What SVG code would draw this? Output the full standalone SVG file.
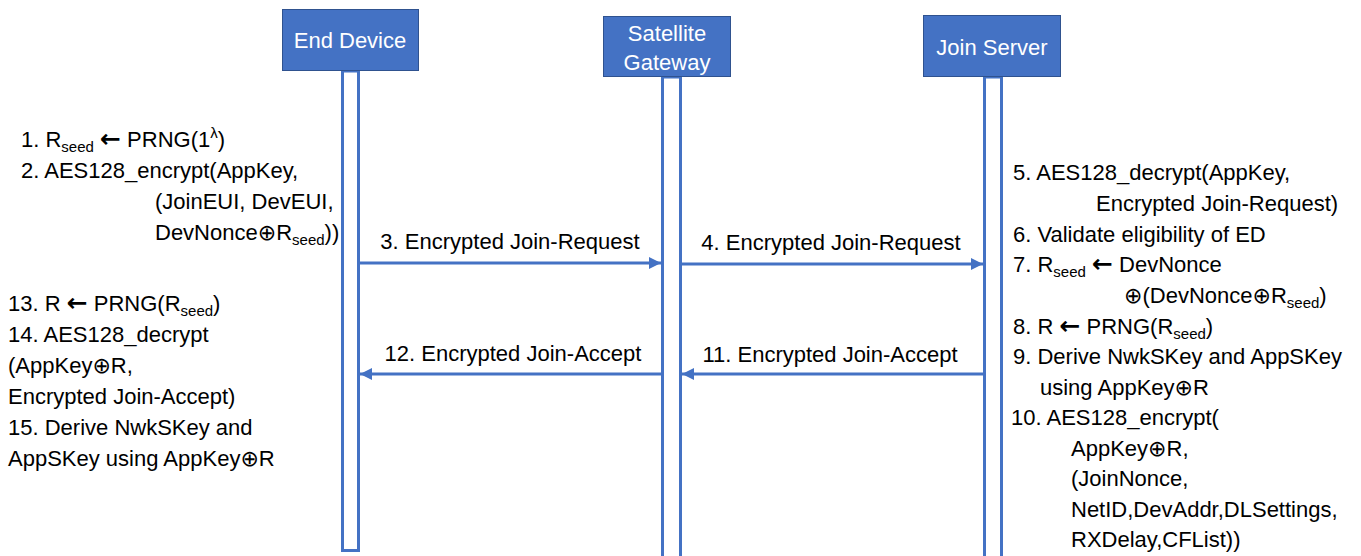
<svg xmlns="http://www.w3.org/2000/svg" width="1361" height="556" viewBox="0 0 1361 556">
  <style>
    .box { fill: #4472C4; stroke: #2F528F; stroke-width: 1; }
    .boxlabel { fill: #FFFFFF; font-family: "Liberation Sans", Arial, sans-serif; font-size: 22px; text-anchor: middle; }
    .life { fill: #FFFFFF; stroke: #4472C4; stroke-width: 3; }
    .msg { stroke: #4472C4; stroke-width: 3; fill: none; }
    .t { fill: #000000; font-family: "Liberation Sans", Arial, sans-serif; font-size: 22px; }
    .mid { text-anchor: middle; }
    .sub { font-size: 15px; }
    .arr { font-family: "DejaVu Sans", sans-serif; font-weight: bold; font-size: 25px; }
    .xor { font-family: "DejaVu Sans", sans-serif; font-size: 22px; }
  </style>
  <defs>
    <marker id="arrowhead" viewBox="0 0 10 10" refX="10" refY="5" markerUnits="userSpaceOnUse" markerWidth="12" markerHeight="13" orient="auto">
      <path d="M0,0 L10,5 L0,10 Z" fill="#4472C4"/>
    </marker>
  </defs>

  <!-- participants with their lifelines -->
  <g id="end-device">
    <rect class="life" x="342.5" y="71" width="16" height="479.5"/>
    <rect class="box" x="282.5" y="9.5" width="136" height="61"/>
    <text class="boxlabel" x="350" y="48">End Device</text>
  </g>
  <g id="satellite-gateway">
    <rect class="life" x="662.5" y="77" width="18" height="490"/>
    <rect class="box" x="603.5" y="16.5" width="127" height="60"/>
    <text class="boxlabel" x="667" y="41">Satellite</text>
    <text class="boxlabel" x="667" y="70">Gateway</text>
  </g>
  <g id="join-server">
    <rect class="life" x="984.5" y="77" width="17" height="490"/>
    <rect class="box" x="923.5" y="15.5" width="137" height="61"/>
    <text class="boxlabel" x="992" y="55">Join Server</text>
  </g>

  <!-- messages -->
  <g id="connectors">
    <line class="msg" x1="360" y1="263" x2="661" y2="263" marker-end="url(#arrowhead)"/>
    <line class="msg" x1="682" y1="264" x2="983" y2="264" marker-end="url(#arrowhead)"/>
    <line class="msg" x1="983" y1="374" x2="682" y2="374" marker-end="url(#arrowhead)"/>
    <line class="msg" x1="661" y1="374" x2="360" y2="374" marker-end="url(#arrowhead)"/>
    <text class="t mid" x="510" y="249">3. Encrypted Join-Request</text>
    <text class="t mid" x="831" y="250">4. Encrypted Join-Request</text>
    <text class="t mid" x="830" y="362">11. Encrypted Join-Accept</text>
    <text class="t mid" x="513" y="361">12. Encrypted Join-Accept</text>
  </g>

  <!-- end device steps: request -->
  <g id="ed-request-steps">
    <text class="t" x="21" y="147">1. R<tspan class="sub" dy="5">seed</tspan><tspan dy="-5"> </tspan><tspan class="arr">←</tspan> PRNG(1<tspan class="sub" dy="-9">λ</tspan><tspan dy="9">)</tspan></text>
    <text class="t" x="21" y="178">2. AES128_encrypt(AppKey,</text>
    <text class="t" x="155" y="209">(JoinEUI, DevEUI,</text>
    <text class="t" x="155" y="240">DevNonce<tspan class="xor">⊕</tspan>R<tspan class="sub" dy="5">seed</tspan><tspan dy="-5">))</tspan></text>
  </g>

  <!-- end device steps: accept -->
  <g id="ed-accept-steps">
    <text class="t" x="8" y="311">13. R <tspan class="arr">←</tspan> PRNG(R<tspan class="sub" dy="5">seed</tspan><tspan dy="-5">)</tspan></text>
    <text class="t" x="8" y="342">14. AES128_decrypt</text>
    <text class="t" x="8" y="373">(AppKey<tspan class="xor">⊕</tspan>R,</text>
    <text class="t" x="8" y="404">Encrypted Join-Accept)</text>
    <text class="t" x="8" y="435">15. Derive NwkSKey and</text>
    <text class="t" x="8" y="466">AppSKey using AppKey<tspan class="xor">⊕</tspan>R</text>
  </g>

  <!-- join server steps -->
  <g id="js-steps">
    <text class="t" x="1013" y="180">5. AES128_decrypt(AppKey,</text>
    <text class="t" x="1096" y="211">Encrypted Join-Request)</text>
    <text class="t" x="1013" y="242">6. Validate eligibility of ED</text>
    <text class="t" x="1013" y="272">7. R<tspan class="sub" dy="5">seed</tspan><tspan dy="-5"> </tspan><tspan class="arr">←</tspan> DevNonce</text>
    <text class="t" x="1124" y="303"><tspan class="xor">⊕</tspan>(DevNonce<tspan class="xor">⊕</tspan>R<tspan class="sub" dy="5">seed</tspan><tspan dy="-5">)</tspan></text>
    <text class="t" x="1013" y="334">8. R <tspan class="arr">←</tspan> PRNG(R<tspan class="sub" dy="5">seed</tspan><tspan dy="-5">)</tspan></text>
    <text class="t" x="1013" y="364">9. Derive NwkSKey and AppSKey</text>
    <text class="t" x="1040" y="395">using AppKey<tspan class="xor">⊕</tspan>R</text>
    <text class="t" x="1011" y="425">10. AES128_encrypt(</text>
    <text class="t" x="1071" y="456">AppKey<tspan class="xor">⊕</tspan>R,</text>
    <text class="t" x="1071" y="486">(JoinNonce,</text>
    <text class="t" x="1071" y="517">NetID,DevAddr,DLSettings,</text>
    <text class="t" x="1071" y="547">RXDelay,CFList))</text>
  </g>
</svg>
